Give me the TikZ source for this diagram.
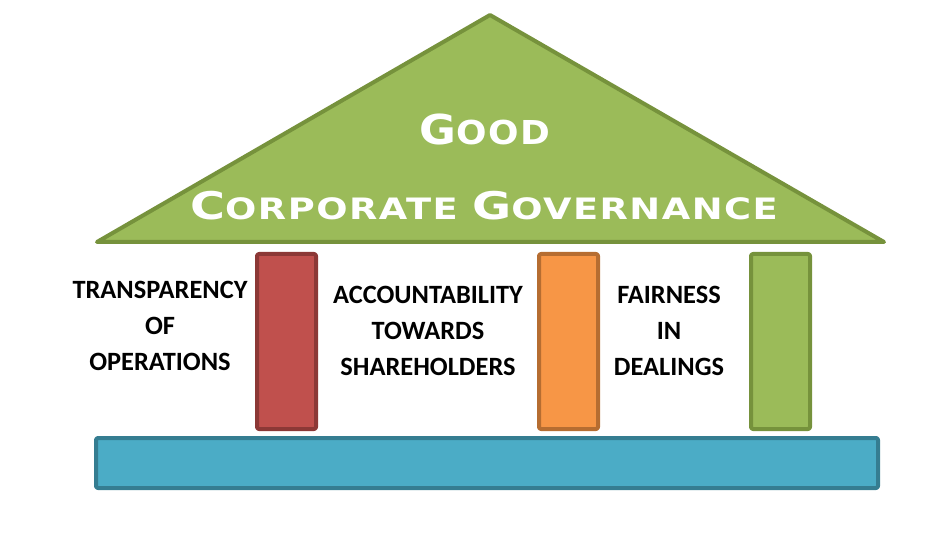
\documentclass[tikz,border=0pt]{standalone}
\usepackage{fontspec}
\setmainfont{Carlito}
\newfontfamily\titlefont[LetterSpace=4]{DejaVu Sans Bold}
\definecolor{roofFill}{HTML}{9BBB59}
\definecolor{roofLine}{HTML}{76923C}
\definecolor{redFill}{HTML}{C0504D}
\definecolor{redLine}{HTML}{8C3836}
\definecolor{orFill}{HTML}{F79646}
\definecolor{orLine}{HTML}{B66D31}
\definecolor{baseFill}{HTML}{4BACC6}
\definecolor{baseLine}{HTML}{357D91}
\newcommand\BigLet[1]{{\fontsize{28.6}{32}\selectfont #1}}
\newcommand\SmLet[1]{{\fontsize{22.1}{26}\selectfont #1}}
\newcommand\BigLetG[1]{{\fontsize{30.9}{34}\selectfont #1}}
\newcommand\SmLetG[1]{{\fontsize{24.7}{28}\selectfont #1}}
\begin{document}
\begin{tikzpicture}[x=0.75pt,y=-0.75pt,
  shape3/.style={line width=3pt, line join=round, rounded corners=1.5pt},
  pillar/.style={shape3},
  label3/.style={font=\bfseries\fontsize{19.8}{27}\selectfont, align=center, text=black, inner sep=0pt},
  titletext/.style={font=\titlefont, text=white, inner sep=0pt, anchor=base}]
\useasboundingbox (0,0) rectangle (944,541);
% roof
\draw[shape3, rounded corners=0pt, fill=roofFill, draw=roofLine] (490,15) -- (884,242) -- (97,242) -- cycle;
% pillars
\draw[pillar, fill=redFill, draw=redLine] (257,254) rectangle (316,429);
\draw[pillar, fill=orFill, draw=orLine] (539,254) rectangle (598,429);
\draw[pillar, fill=roofFill, draw=roofLine] (751,254) rectangle (810,429);
% base
\draw[shape3, fill=baseFill, draw=baseLine] (96,438) rectangle (878,488);
% title
\node[titletext] (good) at (485,145) {\scalebox{1.09}[1]{\BigLetG{G}\SmLetG{OOD}}};
\node[titletext] (cg) at (484,220) {\scalebox{1.25}[1]{\BigLet{C}\SmLet{ORPORATE\ }\BigLet{G}\SmLet{OVERNANCE}}};
% labels
\node[label3] (t1) at (160,326) {TRANSPARENCY\\OF\\OPERATIONS};
\node[label3] (t2) at (428,331) {ACCOUNTABILITY\\TOWARDS\\SHAREHOLDERS};
\node[label3] (t3) at (669,331) {FAIRNESS\\IN\\DEALINGS};
\end{tikzpicture}
\end{document}
